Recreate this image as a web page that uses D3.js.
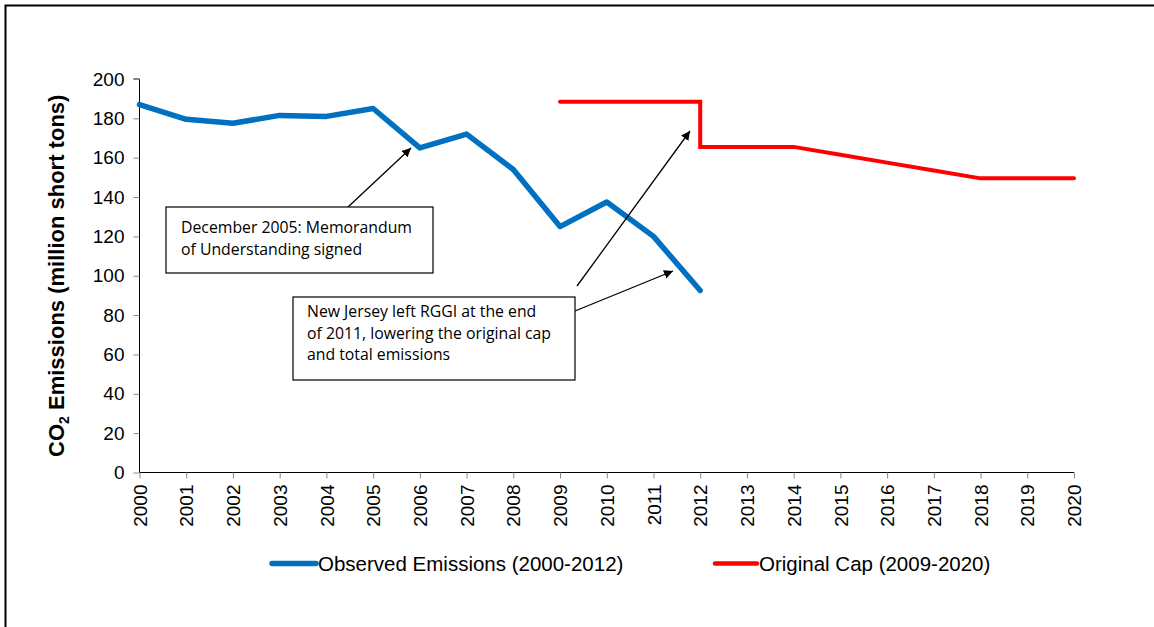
<!DOCTYPE html>
<html>
<head>
<meta charset="utf-8">
<script src="https://cdn.jsdelivr.net/npm/d3@7"></script>
<style>
  body { margin: 0; background: #fff; }
  svg { display: block; }
</style>
</head>
<body>
<div id="chart"></div>
<script>
// Observed emissions, million short tons
const obsYears = [2000, 2001, 2002, 2003, 2004, 2005, 2006, 2007, 2008, 2009, 2010, 2011, 2012];
const obsValues = [187, 179.5, 177.5, 181.5, 181, 185, 165, 172, 154, 125, 137.5, 120, 92.5];

// Original cap (step down at 2012 when NJ left)
const capYears = [2009, 2012, 2012, 2014, 2015, 2016, 2017, 2018, 2019, 2020];
const capValues = [188.5, 188.5, 165.5, 165.5, 161.5, 157.5, 153.5, 149.5, 149.5, 149.5];

const yTicks = [0, 20, 40, 60, 80, 100, 120, 140, 160, 180, 200];
const xTicks = d3.range(2000, 2021);

const seriesNames = ["Observed Emissions (2000-2012)", "Original Cap (2009-2020)"];
const note1 = ["December 2005: Memorandum", "of Understanding signed"];
const note2 = ["New Jersey left RGGI at the end", "of 2011, lowering the original cap", "and total emissions"];

const width = 1154, height = 627;
const margin = { left: 139.5, right: 1074, top: 79, bottom: 472.5 };

const svg = d3.select("#chart")
  .append("svg")
  .attr("width", width)
  .attr("height", height);

// outer frame
svg.append("rect")
  .attr("x", 5.5).attr("y", 5.5)
  .attr("width", 1200).attr("height", 700)
  .attr("fill", "none")
  .attr("stroke", "#000")
  .attr("stroke-width", 2);

const x = d3.scaleLinear().domain([2000, 2020]).range([margin.left, margin.right]);
const y = d3.scaleLinear().domain([0, 200]).range([margin.bottom, margin.top]);

// y axis
const yAxis = svg.append("g")
  .attr("transform", `translate(${margin.left},0)`)
  .call(d3.axisLeft(y).tickValues(yTicks).tickSize(6).tickPadding(9));
yAxis.selectAll("text")
  .attr("font-family", "Liberation Sans, Arial, sans-serif")
  .attr("font-size", 19)
  .attr("fill", "#000");
yAxis.selectAll("line").attr("stroke", "#888");
yAxis.select(".domain").attr("stroke", "#000").attr("d", `M0,${margin.bottom}V${margin.top}M-6,${margin.top}H0`);

// x axis
const xAxis = svg.append("g")
  .attr("transform", `translate(0,${margin.bottom})`)
  .call(d3.axisBottom(x).tickValues(xTicks).tickFormat(d3.format("d")).tickSize(6));
xAxis.selectAll("text")
  .attr("font-family", "Liberation Sans, Arial, sans-serif")
  .attr("font-size", 19)
  .attr("fill", "#000")
  .attr("transform", "rotate(-90)")
  .attr("text-anchor", "end")
  .attr("x", -12)
  .attr("y", 0)
  .attr("dy", "0.35em");
xAxis.selectAll("line").attr("stroke", "#888");
xAxis.select(".domain").attr("stroke", "#000").attr("d", `M${margin.left},0H${margin.right}`);

// y axis title
const yTitle = svg.append("text")
  .attr("transform", `translate(64,${(margin.top + margin.bottom) / 2}) rotate(-90)`)
  .attr("text-anchor", "middle")
  .attr("font-family", "Liberation Sans, Arial, sans-serif")
  .attr("font-weight", "bold")
  .attr("font-size", 22)
  .attr("fill", "#000");
yTitle.append("tspan").text("CO");
yTitle.append("tspan").attr("font-size", 14).attr("dy", 5).text("2");
yTitle.append("tspan").attr("dy", -5).text(" Emissions (million short tons)");

const line = d3.line().x(d => x(d[0])).y(d => y(d[1]));

svg.append("path")
  .datum(capYears.map((yr, i) => [yr, capValues[i]]))
  .attr("d", line)
  .attr("fill", "none")
  .attr("stroke", "#FF0000")
  .attr("stroke-width", 4)
  .attr("stroke-linecap", "round");

svg.append("path")
  .datum(obsYears.map((yr, i) => [yr, obsValues[i]]))
  .attr("d", line)
  .attr("fill", "none")
  .attr("stroke", "#0070C0")
  .attr("stroke-width", 5.5)
  .attr("stroke-linejoin", "round")
  .attr("stroke-linecap", "round");

// arrows
svg.append("defs").append("marker")
  .attr("id", "arrow")
  .attr("viewBox", "0 -5 10 10")
  .attr("refX", 10).attr("refY", 0)
  .attr("markerWidth", 9).attr("markerHeight", 9)
  .attr("markerUnits", "userSpaceOnUse")
  .attr("orient", "auto")
  .append("path")
  .attr("d", "M0,-5L10,0L0,5Z")
  .attr("fill", "#000");

const arrows = [
  [348, 207, 411, 148],
  [577, 286, 690, 131],
  [575, 311, 673, 271]
];
svg.append("g").selectAll("line")
  .data(arrows)
  .join("line")
  .attr("x1", d => d[0]).attr("y1", d => d[1])
  .attr("x2", d => d[2]).attr("y2", d => d[3])
  .attr("stroke", "#000")
  .attr("stroke-width", 1.3)
  .attr("marker-end", "url(#arrow)");

// note boxes
function noteBox(x0, y0, w, h, lines, tx, ty) {
  svg.append("rect")
    .attr("x", x0).attr("y", y0).attr("width", w).attr("height", h)
    .attr("fill", "#fff").attr("stroke", "#000").attr("stroke-width", 1.2);
  svg.append("text")
    .attr("font-family", "Open Sans, sans-serif")
    .attr("font-size", 15.8)
    .attr("fill", "#000")
    .selectAll("tspan")
    .data(lines)
    .join("tspan")
    .attr("x", tx)
    .attr("y", (d, i) => ty + i * 21.7)
    .text(d => d);
}
noteBox(166, 207, 267, 66, note1, 181, 233);
noteBox(293, 297, 282, 83, note2, 307, 317);

// legend
const legend = svg.append("g")
  .attr("font-family", "Liberation Sans Narrow, Liberation Sans, Arial, sans-serif")
  .attr("font-size", 20.5);
const legendItems = [
  { name: seriesNames[0], color: "#0070C0", x0: 272, len: 44, sw: 5.5 },
  { name: seriesNames[1], color: "#FF0000", x0: 715, len: 42, sw: 4.5 }
];
legendItems.forEach(d => {
  legend.append("line")
    .attr("x1", d.x0).attr("x2", d.x0 + d.len)
    .attr("y1", 563.5).attr("y2", 563.5)
    .attr("stroke", d.color).attr("stroke-width", d.sw)
    .attr("stroke-linecap", "round");
  legend.append("text")
    .attr("x", d.x0 + d.len + 2).attr("y", 570.5)
    .attr("fill", "#000")
    .text(d.name);
});
</script>
</body>
</html>
